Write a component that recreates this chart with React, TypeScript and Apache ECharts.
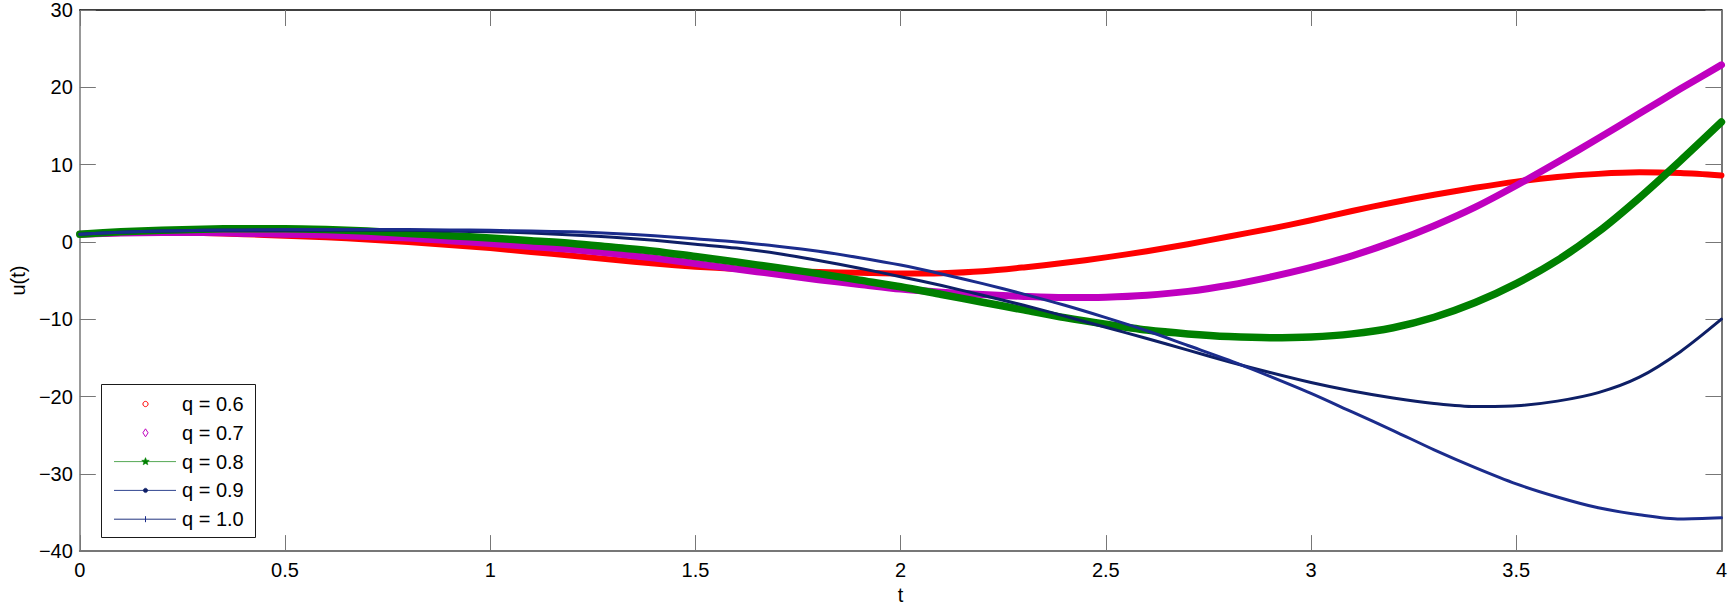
import React, { useEffect, useRef } from "react";
import * as echarts from "echarts";

// ---- data ----
const tValues = [
  0, 0.1, 0.2, 0.3, 0.4, 0.5, 0.6, 0.7, 0.8, 0.9,
  1.0, 1.1, 1.2, 1.3, 1.4, 1.5, 1.6, 1.7, 1.8, 1.9,
  2.0, 2.1, 2.2, 2.3, 2.4, 2.5, 2.6, 2.7, 2.8, 2.9,
  3.0, 3.1, 3.2, 3.3, 3.4, 3.5, 3.6, 3.7, 3.8, 3.9, 4.0,
];

const q06 = [
  1.0, 1.15, 1.2, 1.15, 1.0, 0.8, 0.6, 0.3, 0.0, -0.4,
  -0.8, -1.3, -1.8, -2.3, -2.8, -3.2, -3.5, -3.75, -3.9, -4.0,
  -4.1, -4.05, -3.8, -3.3, -2.7, -2.0, -1.2, -0.3, 0.7, 1.7,
  2.8, 4.0, 5.1, 6.1, 7.0, 7.8, 8.4, 8.8, 9.0, 8.9, 8.6,
];
const q07 = [
  1.0, 1.15, 1.2, 1.2, 1.1, 1.0, 0.9, 0.7, 0.5, 0.15,
  -0.2, -0.6, -1.0, -1.5, -2.1, -2.8, -3.5, -4.2, -4.9, -5.5,
  -6.1, -6.5, -6.8, -7.05, -7.2, -7.15, -6.9, -6.4, -5.6, -4.55,
  -3.3, -1.8, 0.0, 2.1, 4.5, 7.3, 10.3, 13.4, 16.6, 19.8, 22.9,
];
const q08 = [
  1.0, 1.3, 1.5, 1.65, 1.7, 1.7, 1.6, 1.4, 1.1, 0.8,
  0.5, 0.15, -0.2, -0.7, -1.2, -1.9, -2.6, -3.35, -4.1, -4.95,
  -5.8, -6.8, -7.8, -8.8, -9.8, -10.65, -11.4, -11.9, -12.25, -12.4,
  -12.3, -11.9, -11.1, -9.75, -7.85, -5.4, -2.4, 1.3, 5.7, 10.5, 15.5,
];
const q09 = [
  1.0, 1.25, 1.4, 1.5, 1.5, 1.5, 1.5, 1.5, 1.5, 1.4,
  1.3, 1.15, 0.9, 0.6, 0.2, -0.3, -0.8, -1.5, -2.4, -3.4,
  -4.5, -5.65, -6.9, -8.2, -9.6, -11.05, -12.5, -14.0, -15.5, -16.9,
  -18.2, -19.3, -20.2, -20.9, -21.3, -21.2, -20.6, -19.5, -17.5, -14.2, -10.0,
];
const q10 = [
  1.0, 1.25, 1.4, 1.5, 1.55, 1.6, 1.6, 1.6, 1.6, 1.55,
  1.5, 1.4, 1.3, 1.1, 0.8, 0.4, 0.0, -0.55, -1.2, -2.05,
  -3.0, -4.15, -5.4, -6.75, -8.2, -9.8, -11.5, -13.4, -15.3, -17.4,
  -19.6, -22.0, -24.4, -26.9, -29.2, -31.3, -33.0, -34.4, -35.3, -35.85, -35.7,
];

const seriesNames = ["q = 0.6", "q = 0.7", "q = 0.8", "q = 0.9", "q = 1.0"];
const seriesValues = [q06, q07, q08, q09, q10];

const xMin = 0;
const xMax = 4;
const xInterval = 0.5;
const yMin = -40;
const yMax = 30;
const yInterval = 10;

const xAxisTitle = "t";
const yAxisTitle = "u(t)";

// ---- styles ----
const colors = ["#ff0000", "#bf00bf", "#008000", "#0e1f66", "#1b2c8c"];
const widths = [6, 7, 7.5, 3, 3];
const FONT = '"Liberation Sans", Arial, sans-serif';
const AXIS_GRAY = "#777777";

function starPoints(cx: number, cy: number, R: number, r: number) {
  const pts: number[][] = [];
  for (let i = 0; i < 10; i++) {
    const a = -Math.PI / 2 + (i * Math.PI) / 5;
    const rad = i % 2 === 0 ? R : r;
    pts.push([cx + rad * Math.cos(a), cy + rad * Math.sin(a)]);
  }
  return pts;
}

function buildLegend() {
  const boxX = 101.5;
  const boxY = 384.5;
  const boxW = 154;
  const boxH = 153;
  const rowY0 = 404;
  const rowStep = 28.8;
  const lineX1 = 114;
  const lineX2 = 176;
  const markX = 145.5;
  const textX = 182;
  const legendLineColors = ["", "", "#55a855", "#2f4590", "#22347f"];
  const els: any[] = [
    {
      type: "rect",
      z: 100,
      shape: { x: boxX, y: boxY, width: boxW, height: boxH },
      style: { fill: "#ffffff", stroke: "#1a1a1a", lineWidth: 1 },
    },
  ];
  seriesNames.forEach((name, i) => {
    const cy = rowY0 + i * rowStep;
    const c = colors[i];
    if (i >= 2) {
      els.push({
        type: "line",
        z: 101,
        shape: { x1: lineX1, y1: cy, x2: lineX2, y2: cy },
        style: { stroke: legendLineColors[i], lineWidth: 1 },
      });
    }
    if (i === 0) {
      els.push({
        type: "circle",
        z: 102,
        shape: { cx: markX, cy, r: 2.6 },
        style: { fill: "none", stroke: c, lineWidth: 1 },
      });
    } else if (i === 1) {
      els.push({
        type: "polygon",
        z: 102,
        shape: { points: [[markX, cy - 4], [markX + 2.6, cy], [markX, cy + 4], [markX - 2.6, cy]] },
        style: { fill: "none", stroke: c, lineWidth: 1 },
      });
    } else if (i === 2) {
      els.push({
        type: "polygon",
        z: 102,
        shape: { points: starPoints(markX, cy, 4, 1.8) },
        style: { fill: c, stroke: c, lineWidth: 0.5 },
      });
    } else if (i === 3) {
      els.push({
        type: "circle",
        z: 102,
        shape: { cx: markX, cy, r: 2.2 },
        style: { fill: c, stroke: c, lineWidth: 0.5 },
      });
    } else {
      els.push({
        type: "line",
        z: 102,
        shape: { x1: markX, y1: cy - 3, x2: markX, y2: cy + 3 },
        style: { stroke: c, lineWidth: 1 },
      });
    }
    els.push({
      type: "text",
      z: 102,
      x: textX,
      y: cy,
      style: {
        text: name,
        fill: "#000000",
        fontSize: 20,
        fontFamily: FONT,
        align: "left",
        verticalAlign: "middle",
      },
    });
  });
  return els;
}

export default function App() {
  const ref = useRef<HTMLDivElement>(null);

  useEffect(() => {
    if (!ref.current) return;
    const chart = echarts.init(ref.current, undefined, { renderer: "svg" });

    const fmtNum = (v: number) => String(v).replace("-", "\u2212");

    const option: any = {
      animation: false,
      backgroundColor: "#ffffff",
      grid: { left: 71, top: 7, right: 5, bottom: 51, containLabel: false },
      xAxis: [
        {
          type: "value",
          position: "bottom",
          min: xMin,
          max: xMax,
          interval: xInterval,
          name: xAxisTitle,
          nameLocation: "middle",
          nameGap: 30,
          nameTextStyle: { fontSize: 20, fontFamily: FONT, color: "#000" },
          axisLine: { show: true, onZero: false, lineStyle: { color: AXIS_GRAY, width: 2 } },
          axisTick: { show: true, inside: true, length: 16, lineStyle: { color: AXIS_GRAY, width: 1 } },
          axisLabel: { show: true, margin: 9, fontSize: 20, fontFamily: FONT, color: "#000", formatter: fmtNum },
          splitLine: { show: false },
        },
        {
          type: "value",
          position: "top",
          min: xMin,
          max: xMax,
          interval: xInterval,
          axisLine: { show: true, onZero: false, lineStyle: { color: "#000000", width: 1.5 } },
          axisTick: { show: true, inside: true, length: 16, lineStyle: { color: AXIS_GRAY, width: 1 } },
          axisLabel: { show: false },
          splitLine: { show: false },
        },
      ],
      yAxis: [
        {
          type: "value",
          position: "left",
          min: yMin,
          max: yMax,
          interval: yInterval,
          name: yAxisTitle,
          nameLocation: "middle",
          nameGap: 50,
          nameTextStyle: { fontSize: 20, fontFamily: FONT, color: "#000" },
          axisLine: { show: true, onZero: false, lineStyle: { color: AXIS_GRAY, width: 1.5 } },
          axisTick: { show: true, inside: true, length: 16, lineStyle: { color: AXIS_GRAY, width: 1 } },
          axisLabel: { show: true, margin: 7, fontSize: 20, fontFamily: FONT, color: "#000", formatter: fmtNum },
          splitLine: { show: false },
        },
        {
          type: "value",
          position: "right",
          min: yMin,
          max: yMax,
          interval: yInterval,
          axisLine: { show: true, onZero: false, lineStyle: { color: AXIS_GRAY, width: 2 } },
          axisTick: { show: true, inside: true, length: 16, lineStyle: { color: AXIS_GRAY, width: 1 } },
          axisLabel: { show: false },
          splitLine: { show: false },
        },
      ],
      series: seriesValues.map((vals, i) => ({
        name: seriesNames[i],
        type: "line",
        xAxisIndex: 0,
        yAxisIndex: 0,
        data: tValues.map((t, k) => [t, vals[k]]),
        smooth: 0.3,
        showSymbol: false,
        symbol: "none",
        z: 2 + i,
        lineStyle: { color: colors[i], width: widths[i], cap: "round", join: "round" },
        itemStyle: { color: colors[i] },
        emphasis: { disabled: true },
      })),
      graphic: buildLegend(),
    };

    chart.setOption(option);
    return () => {
      chart.dispose();
    };
  }, []);

  return (
    <div
      ref={ref}
      style={{ position: "fixed", left: 0, top: 0, width: 1730, height: 610, background: "#fff" }}
    />
  );
}
